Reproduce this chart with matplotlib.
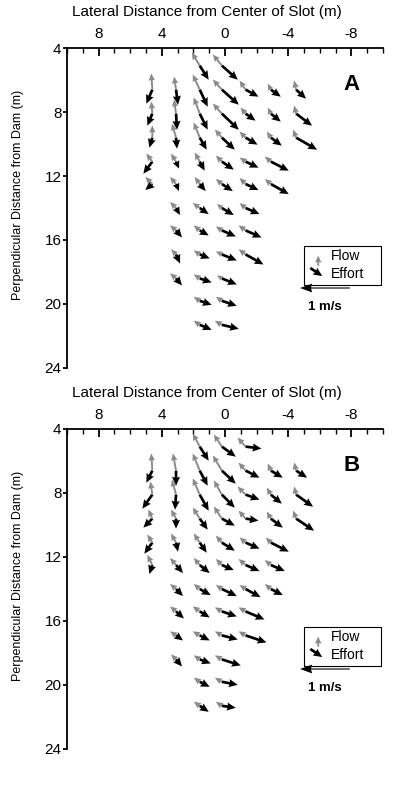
import matplotlib
matplotlib.use("Agg")
import matplotlib.pyplot as plt
from matplotlib.ticker import MultipleLocator
from matplotlib.patches import Rectangle

plt.rcParams['font.family'] = ['Liberation Sans', 'DejaVu Sans']

# ---------------- data ----------------
x_ticks = [8, 4, 0, -4, -8]
x_tick_labels = ['8', '4', '0', '-4', '-8']
y_ticks = [4, 8, 12, 16, 20, 24]
panel_labels = ['A', 'B']

# Panel A : sampling positions (m) and velocities (m/s)
a_lat = [1.6, 0.2,
         4.6, 3.1, 1.6, 0.2, -1.3, -2.9, -4.5,
         4.6, 3.1, 1.6, 0.2, -1.3, -2.9, -4.5,
         4.6, 3.1, 1.6, 0.2, -1.3, -2.9, -4.5,
         4.6, 3.1, 1.6, 0.2, -1.3, -2.9,
         4.6, 3.1, 1.6, 0.2, -1.3, -2.9,
         3.1, 1.6, 0.2, -1.3,
         3.1, 1.6, 0.2, -1.3,
         3.1, 1.6, 0.2, -1.3,
         3.1, 1.6, 0.2,
         1.6, 0.2,
         1.6, 0.2]
a_dist = [5.1, 5.1,
          6.6, 6.6, 6.6, 6.6, 6.6, 6.6, 6.6,
          8.1, 8.1, 8.1, 8.1, 8.1, 8.1, 8.1,
          9.6, 9.6, 9.6, 9.6, 9.6, 9.6, 9.6,
          11.1, 11.1, 11.1, 11.1, 11.1, 11.1,
          12.5, 12.5, 12.5, 12.5, 12.5, 12.5,
          14.0, 14.0, 14.0, 14.0,
          15.4, 15.4, 15.4, 15.4,
          16.9, 16.9, 16.9, 16.9,
          18.4, 18.4, 18.4,
          19.8, 19.8,
          21.3, 21.3]
a_flow_u = [0.16, 0.18,
            0.02, 0.04, 0.14, 0.18, 0.12, 0.06, 0.04,
            0.02, 0.04, 0.12, 0.18, 0.10, 0.06, 0.04,
            0.00, 0.08, 0.12, 0.14, 0.12, 0.08, 0.06,
            0.12, 0.10, 0.10, 0.12, 0.12, 0.12,
            0.14, 0.12, 0.10, 0.12, 0.12, 0.12,
            0.12, 0.14, 0.10, 0.12,
            0.12, 0.12, 0.12, 0.14,
            0.10, 0.12, 0.12, 0.14,
            0.12, 0.12, 0.10,
            0.12, 0.12,
            0.12, 0.14]
a_flow_v = [-0.26, -0.22,
            -0.32, -0.26, -0.30, -0.20, -0.18, -0.12, -0.18,
            -0.24, -0.28, -0.32, -0.20, -0.12, -0.12, -0.16,
            -0.24, -0.28, -0.30, -0.16, -0.12, -0.12, -0.16,
            -0.16, -0.16, -0.18, -0.12, -0.08, -0.10,
            -0.14, -0.14, -0.14, -0.10, -0.12, -0.10,
            -0.12, -0.10, -0.08, -0.10,
            -0.10, -0.10, -0.08, -0.10,
            -0.10, -0.08, -0.06, -0.10,
            -0.10, -0.08, -0.06,
            -0.08, -0.08,
            -0.08, -0.08]
a_eff_u = [-0.18, -0.32,
           0.12, -0.04, -0.16, -0.34, -0.26, -0.20, -0.20,
           0.10, -0.02, -0.16, -0.34, -0.20, -0.20, -0.32,
           0.06, -0.02, -0.14, -0.26, -0.24, -0.22, -0.42,
           0.18, -0.06, -0.10, -0.24, -0.26, -0.36,
           0.14, -0.06, -0.12, -0.22, -0.26, -0.36,
           -0.08, -0.18, -0.24, -0.28,
           -0.12, -0.18, -0.28, -0.32,
           -0.08, -0.20, -0.30, -0.36,
           -0.12, -0.24, -0.30,
           -0.24, -0.30,
           -0.24, -0.34]
a_eff_v = [0.28, 0.28,
           0.28, 0.30, 0.34, 0.30, 0.14, 0.14, 0.18,
           0.24, 0.32, 0.32, 0.32, 0.14, 0.16, 0.24,
           0.20, 0.22, 0.24, 0.24, 0.14, 0.16, 0.24,
           0.24, 0.14, 0.18, 0.16, 0.12, 0.18,
           0.12, 0.14, 0.14, 0.14, 0.12, 0.20,
           0.14, 0.12, 0.14, 0.12,
           0.14, 0.10, 0.12, 0.14,
           0.18, 0.08, 0.12, 0.20,
           0.14, 0.08, 0.12,
           0.08, 0.10,
           0.10, 0.08]

# Panel B
b_lat = [1.6, 0.2, -1.3,
         4.6, 3.1, 1.6, 0.2, -1.3, -2.9, -4.5,
         4.6, 3.1, 1.6, 0.2, -1.3, -2.9, -4.5,
         4.6, 3.1, 1.6, 0.2, -1.3, -2.9, -4.5,
         4.6, 3.1, 1.6, 0.2, -1.3, -2.9,
         4.6, 3.1, 1.6, 0.2, -1.3, -2.9,
         3.1, 1.6, 0.2, -1.3, -2.9,
         3.1, 1.6, 0.2, -1.3,
         3.1, 1.6, 0.2, -1.3,
         3.1, 1.6, 0.2,
         1.6, 0.2,
         1.6, 0.2]
b_dist = [5.1, 5.1, 5.1,
          6.6, 6.6, 6.6, 6.6, 6.6, 6.6, 6.6,
          8.1, 8.1, 8.1, 8.1, 8.1, 8.1, 8.1,
          9.6, 9.6, 9.6, 9.6, 9.6, 9.6, 9.6,
          11.1, 11.1, 11.1, 11.1, 11.1, 11.1,
          12.5, 12.5, 12.5, 12.5, 12.5, 12.5,
          14.0, 14.0, 14.0, 14.0, 14.0,
          15.4, 15.4, 15.4, 15.4,
          16.9, 16.9, 16.9, 16.9,
          18.4, 18.4, 18.4,
          19.8, 19.8,
          21.3, 21.3]
b_flow_u = [0.14, 0.16, 0.16,
            0.02, 0.06, 0.14, 0.18, 0.14, 0.06, 0.04,
            0.04, 0.08, 0.14, 0.16, 0.16, 0.08, 0.04,
            0.08, 0.10, 0.14, 0.16, 0.14, 0.08, 0.06,
            0.10, 0.10, 0.12, 0.12, 0.12, 0.10,
            0.10, 0.12, 0.12, 0.12, 0.14, 0.12,
            0.12, 0.12, 0.12, 0.12, 0.12,
            0.12, 0.14, 0.14, 0.14,
            0.12, 0.14, 0.14, 0.14,
            0.10, 0.12, 0.14,
            0.12, 0.14,
            0.12, 0.12]
b_flow_v = [-0.26, -0.24, -0.18,
            -0.34, -0.34, -0.34, -0.30, -0.16, -0.14, -0.16,
            -0.26, -0.30, -0.32, -0.28, -0.16, -0.14, -0.16,
            -0.18, -0.18, -0.22, -0.24, -0.16, -0.14, -0.16,
            -0.16, -0.18, -0.18, -0.14, -0.10, -0.10,
            -0.20, -0.14, -0.14, -0.12, -0.12, -0.10,
            -0.10, -0.10, -0.08, -0.08, -0.10,
            -0.10, -0.10, -0.08, -0.08,
            -0.08, -0.08, -0.08, -0.08,
            -0.10, -0.08, -0.08,
            -0.08, -0.08,
            -0.08, -0.08]
b_eff_u = [-0.18, -0.28, -0.32,
           0.12, 0.00, -0.16, -0.28, -0.28, -0.24, -0.22,
           0.20, 0.02, -0.18, -0.26, -0.28, -0.22, -0.34,
           0.18, 0.00, -0.16, -0.26, -0.26, -0.24, -0.36,
           0.16, -0.04, -0.14, -0.26, -0.28, -0.36,
           0.06, -0.14, -0.20, -0.24, -0.28, -0.28,
           -0.14, -0.22, -0.30, -0.30, -0.24,
           -0.16, -0.20, -0.30, -0.38,
           -0.14, -0.20, -0.32, -0.42,
           -0.12, -0.22, -0.38,
           -0.20, -0.32,
           -0.18, -0.28]
b_eff_v = [0.28, 0.20, 0.04,
           0.24, 0.30, 0.30, 0.26, 0.14, 0.14, 0.14,
           0.28, 0.30, 0.32, 0.26, 0.10, 0.18, 0.24,
           0.18, 0.20, 0.22, 0.14, 0.04, 0.18, 0.24,
           0.22, 0.18, 0.20, 0.16, 0.12, 0.18,
           0.18, 0.16, 0.16, 0.10, 0.12, 0.12,
           0.14, 0.12, 0.14, 0.16, 0.12,
           0.14, 0.12, 0.10, 0.16,
           0.10, 0.10, 0.08, 0.14,
           0.14, 0.08, 0.12,
           0.10, 0.06,
           0.12, 0.04]

scale_ref = 1.0          # m/s, reference arrow
# ---------------------------------------

W, H = 409, 787
fig = plt.figure(figsize=(W / 100, H / 100), dpi=100)
fig.patch.set_facecolor('white')

SCALE = 1 / 3.15   # m/s per metre of plot
GRAY = '#8a8a8a'
BLACK_KW = dict(angles='xy', scale_units='xy', scale=SCALE, pivot='tail',
                color='black', units='dots', width=2.7, headwidth=3.0,
                headlength=3.3, headaxislength=3.0, zorder=3)
GRAY_KW = dict(angles='xy', scale_units='xy', scale=SCALE, pivot='tail',
               color=GRAY, units='dots', width=1.9, headwidth=3.4,
               headlength=3.8, headaxislength=3.4, zorder=4)

panels = [
    (a_lat, a_dist, a_flow_u, a_flow_v, a_eff_u, a_eff_v),
    (b_lat, b_dist, b_flow_u, b_flow_v, b_eff_u, b_eff_v),
]
ax_left = 67 / W
ax_w = 316 / W
tops = [48, 429]
for i, (lat, dist, fu, fv, eu, ev) in enumerate(panels):
    top = tops[i]
    bottom = top + 320
    ax = fig.add_axes([ax_left, 1 - bottom / H, ax_w, 320 / H])
    ax.set_xlim(10, -10)
    ax.set_ylim(24, 4)
    for s in ['right', 'bottom']:
        ax.spines[s].set_visible(False)
    for s in ['left', 'top']:
        ax.spines[s].set_linewidth(1.3)
    ax.xaxis.tick_top()
    ax.set_xticks(x_ticks)
    ax.set_xticklabels(x_tick_labels)
    ax.xaxis.set_minor_locator(MultipleLocator(1))
    ax.tick_params(axis='x', which='major', direction='in', length=6,
                   width=1.3, pad=5, labelsize=11)
    ax.tick_params(axis='x', which='minor', direction='in', length=3.5,
                   width=1.0)
    ax.set_yticks(y_ticks)
    ax.tick_params(axis='y', which='major', direction='out', length=3,
                   width=1.3, pad=1, labelsize=11)
    ax.set_ylabel('Perpendicular Distance from Dam (m)', fontsize=9)
    ax.yaxis.set_label_coords(-0.135, 0.54)

    # effort (black) then flow (gray), both from the sampling point
    ax.quiver(lat, dist, eu, ev, **BLACK_KW)
    ax.quiver(lat, dist, fu, fv, **GRAY_KW)

    # panel letter
    ax.text(-8.0, 6.3, panel_labels[i], fontsize=16, fontweight='bold',
            ha='center', va='center')

    # legend box
    ax.add_patch(Rectangle((-5.0, 16.4), -4.9, 2.4, fill=False,
                           edgecolor='black', linewidth=0.8, zorder=2))
    ax.quiver([-5.9], [17.6], [0.0], [-0.2], **GRAY_KW)
    ax.quiver([-5.4], [17.75], [-0.24], [0.16], **BLACK_KW)
    ax.text(-6.7, 17.0, 'Flow', fontsize=10, ha='left', va='center')
    ax.text(-6.7, 18.15, 'Effort', fontsize=10, ha='left', va='center')

    # reference arrow 1 m/s
    ax.quiver([-7.9], [19.0], [scale_ref], [0.0], angles='xy',
              scale_units='xy', scale=SCALE, pivot='tail', color='black',
              units='dots', width=1.1, headwidth=8, headlength=11,
              headaxislength=10)
    ax.text(-6.3, 20.2, '1 m/s', fontsize=9.5, fontweight='bold',
            ha='center', va='center')

    fig.text(207 / W, 1 - (top - 36) / H,
             'Lateral Distance from Center of Slot (m)', fontsize=11,
             ha='center', va='center')

fig.savefig('out.png', dpi=100, facecolor='white')
